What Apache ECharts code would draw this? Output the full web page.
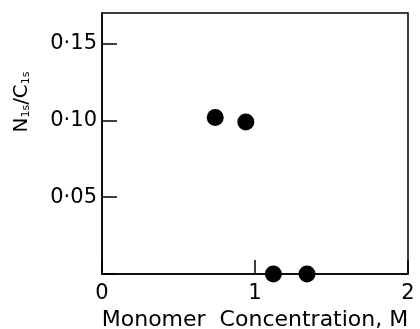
<!DOCTYPE html>
<html>
<head>
<meta charset="utf-8">
<script src="https://cdn.jsdelivr.net/npm/echarts@6/dist/echarts.min.js"></script>
<style>
  html, body { margin: 0; padding: 0; background: #fff; }
  #chart { width: 420px; height: 329px; }
</style>
</head>
<body>
<div id="chart"></div>
<script>
// monomer concentration (M) vs N1s/C1s ratio
const concentration = [0.74, 0.94, 1.12, 1.34]
const ratio = [0.102, 0.099, 0, 0]
const xTicks = [0, 1, 2]
const yTicks = [0.05, 0.10, 0.15]

const font = 'DejaVu Sans'
const chart = echarts.init(document.getElementById('chart'))

const option = {
  animation: false,
  grid: {
    left: 102,
    right: 12,
    top: 13,
    bottom: 55,
    outerBoundsMode: 'none',
    show: true,
    borderColor: '#000',
    borderWidth: 1.5
  },
  xAxis: {
    type: 'value',
    min: xTicks[0],
    max: xTicks[xTicks.length - 1],
    interval: 1,
    name: 'Monomer  Concentration, M',
    nameLocation: 'middle',
    nameGap: 25,
    nameTextStyle: { color: '#000', fontFamily: font, fontSize: 22 },
    axisLine: { show: true, onZero: false, lineStyle: { color: '#000', width: 1.5 } },
    axisTick: { show: true, inside: true, length: 14, lineStyle: { color: '#000', width: 1.5 } },
    axisLabel: { color: '#000', fontFamily: font, fontSize: 21, margin: 9 },
    splitLine: { show: false }
  },
  yAxis: {
    type: 'value',
    min: 0,
    max: 0.17,
    interval: 0.05,
    axisLine: { show: true, onZero: false, lineStyle: { color: '#000', width: 1.5 } },
    axisTick: { show: true, inside: true, length: 15, lineStyle: { color: '#000', width: 1.5 } },
    axisLabel: {
      color: '#000',
      fontFamily: font,
      fontSize: 21,
      margin: 5,
      showMaxLabel: false,
      formatter: function (v) {
        const hit = yTicks.find(t => Math.abs(t - v) < 1e-6)
        return hit ? hit.toFixed(2).replace('.', '·') : ''
      }
    },
    splitLine: { show: false }
  },
  graphic: [
    {
      type: 'text',
      x: 22,
      y: 102,
      rotation: Math.PI / 2,
      style: {
        text: '{a|N}{s|1s}{a|/C}{s|1s}',
        align: 'center',
        verticalAlign: 'middle',
        fill: '#000',
        rich: {
          a: { fontFamily: font, fontSize: 20, fill: '#000' },
          s: { fontFamily: font, fontSize: 11, fill: '#000', verticalAlign: 'bottom', padding: [8, 0, 0, 0] }
        }
      }
    }
  ],
  series: [
    {
      type: 'scatter',
      data: concentration.map((c, i) => [c, ratio[i]]),
      symbol: 'circle',
      symbolSize: 17,
      itemStyle: { color: '#000', opacity: 1 },
      clip: false
    }
  ]
}

chart.setOption(option)
</script>
</body>
</html>
